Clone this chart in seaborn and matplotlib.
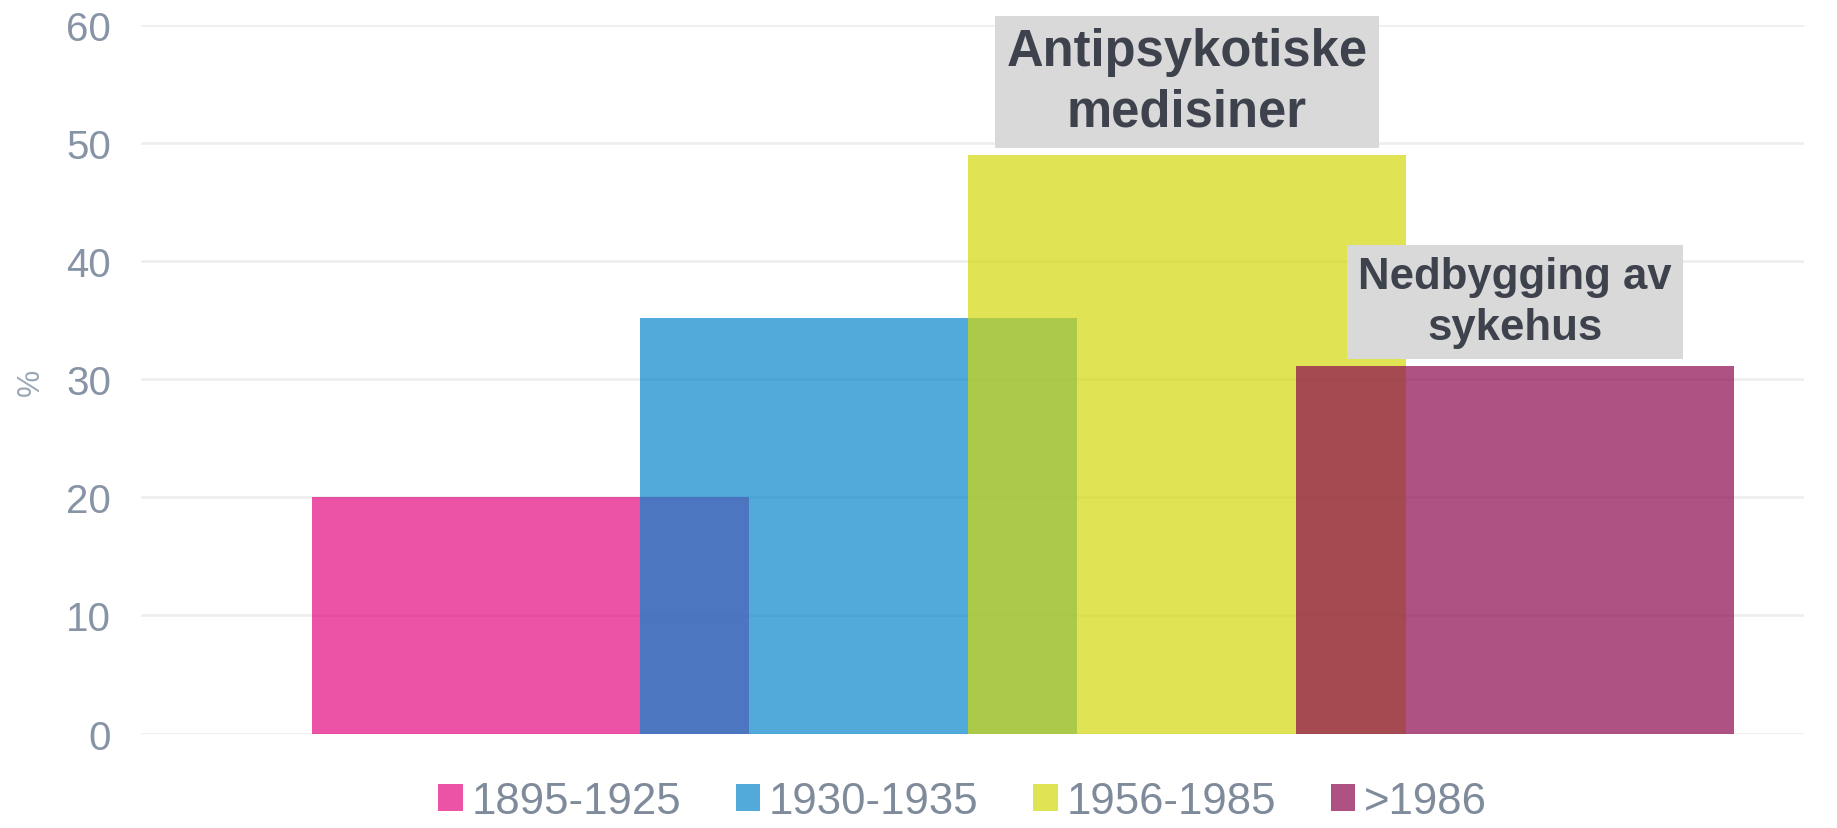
import matplotlib
matplotlib.use("Agg")
import matplotlib.pyplot as plt
from matplotlib.patches import Patch
import seaborn as sns
import pandas as pd

# ---- data ----
periods = ["1895-1925", "1930-1935", "1956-1985", ">1986"]
values = [20.0, 35.2, 49.0, 31.1]
colors = ["#E40880", "#0886CC", "#D3D80C", "#8B094F"]
annot_periods = ["1956-1985", ">1986"]
annot_texts = ["Antipsykotiske\nmedisiner", "Nedbygging av\nsykehus"]
annot_sizes = [36.5, 31.5]
annot_pads = [0.22, 0.26]
yticks = [0, 10, 20, 30, 40, 50, 60]
ylabel = "%"

sns.set_style("white")
plt.rcParams['font.family'] = ['Liberation Sans', 'DejaVu Sans']

df = pd.DataFrame({"period": periods, "value": values})

fig = plt.figure(figsize=(18.37, 8.29), dpi=100)
ax = fig.add_axes([0.0765, 0.1139, 0.982 - 0.0765, 0.9689 - 0.1139])

sns.barplot(data=df, x="period", y="value", hue="period", order=periods,
            hue_order=periods, palette=colors, saturation=1, width=4/3,
            alpha=0.7, linewidth=0, legend=False, ax=ax, zorder=2)

ax.set_xlim(-1.188, 3.88)
ax.set_ylim(0, 60)
ax.set_yticks(yticks)
ax.set_yticklabels([str(t) for t in yticks])
ax.set_xticks([])
ax.set_xlabel("")
ax.set_ylabel("")
for s in ax.spines.values():
    s.set_visible(False)
ax.grid(axis="y", color="#EFEFEF", linewidth=2, zorder=0)
ax.set_axisbelow(True)
ax.tick_params(axis="y", length=0, pad=21, labelsize=29, labelcolor="#8794A6")

fig.text(30.5 / 1837, 1 - 382 / 829, ylabel, rotation=90, ha="center",
         va="center", fontsize=22, color="#9AA6B5")

for p, txt, fs, pad in zip(annot_periods, annot_texts, annot_sizes, annot_pads):
    i = periods.index(p)
    v = values[i]
    off = 5 + pad * fs
    ax.annotate(txt, xy=(i, v), xytext=(0, off), textcoords="offset points",
                ha="center", va="bottom", fontsize=fs, fontweight="bold",
                color="#3D424D", linespacing=1.3, zorder=5,
                bbox=dict(boxstyle=f"square,pad={pad}", fc="#D9D9D9", ec="none"))

handles = [Patch(facecolor=c, alpha=0.7, edgecolor="none") for c in colors]
fig.legend(handles, periods, loc="center", bbox_to_anchor=(0.524, 0.032),
           ncol=4, frameon=False, fontsize=31.5, labelcolor="#7F8B9B",
           handlelength=0.56, handleheight=0.56, handletextpad=0.2,
           columnspacing=1.25, borderpad=0)

fig.savefig("out.png", dpi=100)
